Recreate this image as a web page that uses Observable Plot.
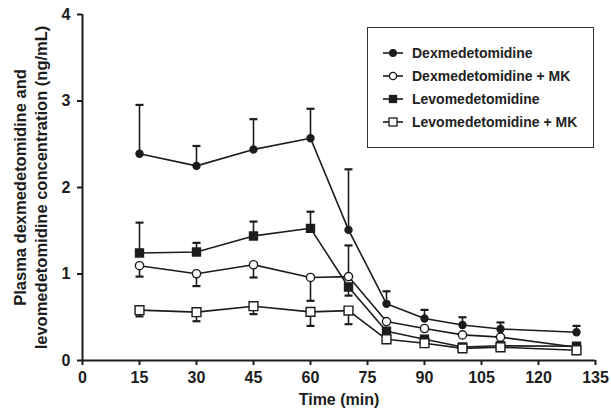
<!DOCTYPE html>
<html>
<head>
<meta charset="utf-8">
<script src="https://cdn.jsdelivr.net/npm/d3@7"></script>
<script src="https://cdn.jsdelivr.net/npm/@observablehq/plot@0.6"></script>
<style>
  html, body { margin: 0; padding: 0; background: #fff; }
  #wrap { position: relative; width: 611px; height: 412px; font-family: "Liberation Sans", Arial, sans-serif; }
  #legend { position: absolute; left: 367px; top: 27px; width: 227px; height: 121px; border: 1px solid #333; background: #fff; box-sizing: border-box; padding-top: 14px; }
  .item { display: flex; align-items: center; height: 22.8px; padding-left: 14px; font-weight: bold; font-size: 14px; color: #222; }
  .item svg { margin-right: 8px; }
</style>
</head>
<body>
<div id="wrap"></div>
<script>
// ---- data ----
const times = [15, 30, 45, 60, 70, 80, 90, 100, 110, 130];
const seriesNames = ["Dexmedetomidine", "Dexmedetomidine + MK", "Levomedetomidine", "Levomedetomidine + MK"];
const dexValues     = [2.39, 2.25, 2.44, 2.57, 1.51, 0.655, 0.485, 0.41, 0.365, 0.327];
const dexErrEnd     = [2.955, 2.48, 2.79, 2.91, 2.21, 0.80, 0.585, 0.50, 0.44, 0.40];
const dexMKValues   = [1.096, 1.003, 1.107, 0.96, 0.97, 0.45, 0.37, 0.296, 0.27, 0.153];
const dexMKErrEnd   = [0.97, 0.86, 0.96, 0.69, 1.33, null, null, null, null, null];
const levoValues    = [1.243, 1.254, 1.44, 1.528, 0.85, 0.338, 0.245, 0.156, 0.17, 0.165];
const levoErrEnd    = [1.594, 1.36, 1.606, 1.72, 0.75, null, null, null, null, null];
const levoMKValues  = [0.582, 0.559, 0.628, 0.562, 0.577, 0.245, 0.20, 0.14, 0.153, 0.118];
const levoMKErrEnd  = [0.51, 0.454, 0.536, 0.40, 0.42, null, null, null, null, null];
const xTicks = [0, 15, 30, 45, 60, 75, 90, 105, 120, 135];
const yTicks = [0, 1, 2, 3, 4];
const xLabel = "Time (min)";
const yLabel = "Plasma dexmedetomidine and\nlevomedetomidine concentration (ng/mL)";

// ---- build table ----
const valuesBySeries = [dexValues, dexMKValues, levoValues, levoMKValues];
const errBySeries = [dexErrEnd, dexMKErrEnd, levoErrEnd, levoMKErrEnd];
const symbols = ["circle", "circle", "square", "square"];
const filled = [true, false, true, false];
const sizes = [3.5, 4.1, 4.5, 5.0];

const rows = [];
const errRows = [];
seriesNames.forEach((name, i) => {
  times.forEach((t, j) => {
    rows.push({series: name, t, v: valuesBySeries[i][j], i});
    const e = errBySeries[i][j];
    if (e != null) errRows.push({series: name, t, v: valuesBySeries[i][j], e, i});
  });
});

const ink = "#1c1c1c";
const capSymbol = {
  draw(context, size) {
    const w = 4;
    context.moveTo(-w, 0);
    context.lineTo(w, 0);
  }
};

const marks = [
  Plot.ruleX(errRows, {x: "t", y1: "v", y2: "e", stroke: ink, strokeWidth: 1.6}),
  Plot.dot(errRows, {x: "t", y: "e", symbol: capSymbol, r: 4, stroke: ink, strokeWidth: 2.2, fill: "none"}),
  Plot.line(rows, {x: "t", y: "v", z: "series", stroke: ink, strokeWidth: 1.6}),
];
seriesNames.forEach((name, i) => {
  marks.push(Plot.dot(rows.filter(d => d.i === i), {
    x: "t", y: "v", symbol: symbols[i], r: sizes[i],
    fill: filled[i] ? ink : "white", stroke: ink, strokeWidth: 1.4
  }));
});
marks.push(
  Plot.ruleX([0], {stroke: ink, strokeWidth: 2}),
  Plot.ruleY([0], {stroke: ink, strokeWidth: 2}),
  Plot.axisX({ticks: xTicks, tickSize: 5, tickPadding: 6, tickFormat: d => String(d), strokeWidth: 2,
    label: xLabel, labelAnchor: "center", labelArrow: "none", labelOffset: 44, fontSize: 16}),
  Plot.axisY({ticks: yTicks, tickSize: 5, tickPadding: 7, tickFormat: d => String(d), strokeWidth: 2,
    label: null, fontSize: 16}),
  Plot.text([yLabel], {frameAnchor: "left", rotate: -90, dx: -53, text: d => d,
    textAnchor: "middle", lineAnchor: "middle",
    fontSize: 16.5, fontWeight: "bold", lineHeight: 1.3, fill: ink})
);

const chart = Plot.plot({
  width: 611,
  height: 412,
  marginLeft: 82,
  marginRight: 16,
  marginTop: 14,
  marginBottom: 52,
  x: {domain: [0, 135]},
  y: {domain: [0, 4]},
  style: {fontFamily: "'Liberation Sans', Arial, sans-serif", fontSize: "16px", fontWeight: "bold", color: ink, background: "white"},
  marks
});

const wrap = document.getElementById("wrap");
wrap.appendChild(chart);

// ---- legend (HTML overlay) ----
const legend = document.createElement("div");
legend.id = "legend";
seriesNames.forEach((name, i) => {
  const item = document.createElement("div");
  item.className = "item";
  const ns = "http://www.w3.org/2000/svg";
  const svg = document.createElementNS(ns, "svg");
  svg.setAttribute("width", 22);
  svg.setAttribute("height", 12);
  const line = document.createElementNS(ns, "line");
  line.setAttribute("x1", 1); line.setAttribute("x2", 21);
  line.setAttribute("y1", 6); line.setAttribute("y2", 6);
  line.setAttribute("stroke", ink); line.setAttribute("stroke-width", 1.6);
  svg.appendChild(line);
  let sym;
  if (symbols[i] === "circle") {
    sym = document.createElementNS(ns, "circle");
    sym.setAttribute("cx", 11); sym.setAttribute("cy", 6); sym.setAttribute("r", filled[i] ? 3.3 : 3.6);
  } else {
    sym = document.createElementNS(ns, "rect");
    const s = filled[i] ? 7 : 8;
    sym.setAttribute("x", 11 - s / 2); sym.setAttribute("y", 6 - s / 2);
    sym.setAttribute("width", s); sym.setAttribute("height", s);
  }
  sym.setAttribute("fill", filled[i] ? ink : "white");
  sym.setAttribute("stroke", ink); sym.setAttribute("stroke-width", 1.3);
  svg.appendChild(sym);
  item.appendChild(svg);
  const span = document.createElement("span");
  span.textContent = name;
  item.appendChild(span);
  legend.appendChild(item);
});
wrap.appendChild(legend);
</script>
</body>
</html>
